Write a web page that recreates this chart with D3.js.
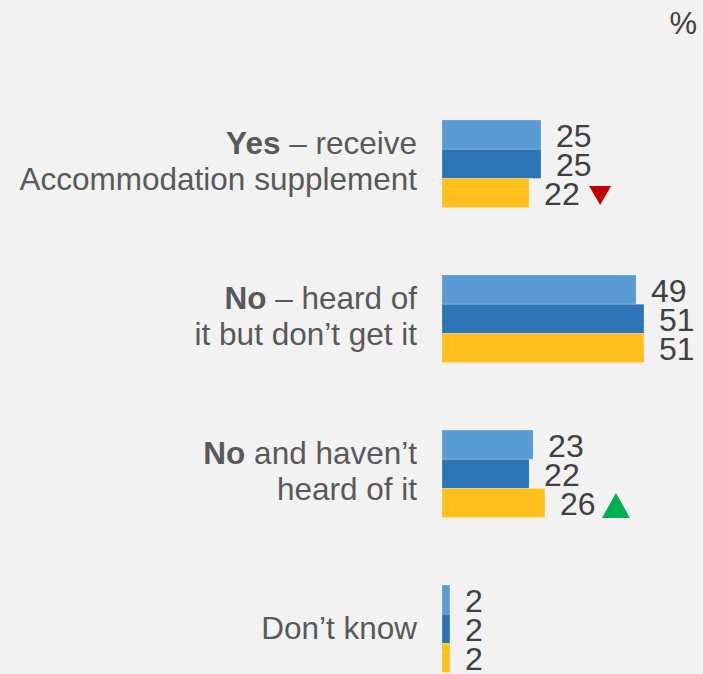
<!DOCTYPE html>
<html>
<head>
<meta charset="utf-8">
<script src="https://cdn.jsdelivr.net/npm/d3@7"></script>
<style>
  html, body { margin: 0; padding: 0; background: #f2f2f2; }
  body { width: 703px; height: 674px; overflow: hidden; }
  svg { display: block; font-family: Arial, "Liberation Sans", sans-serif; }
</style>
</head>
<body>
<div id="root"><svg></svg></div>
<script>
const width = 703, height = 674;

// categories: bold lead word + rest, split into lines
const categories = ['yes', 'noHeard', 'noNotHeard', 'dontKnow'];
const labelLines = [
    [[['Yes', true], [' \u2013 receive', false]], [['Accommodation supplement', false]]],
    [[['No', true], [' \u2013 heard of', false]], [['it but don\u2019t get it', false]]],
    [[['No', true], [' and haven\u2019t', false]], [['heard of it', false]]],
    [[['Don\u2019t know', false]]]
];
const series = ['wave1', 'wave2', 'wave3'];
const seriesColors = ['#5b9bd5', '#2e75b6', '#ffc01e'];
const wave1 = [25, 49, 23, 2];
const wave2 = [25, 51, 22, 2];
const wave3 = [22, 51, 26, 2];
// significance marker on latest wave: -1 down, 1 up, 0 none
const change = [-1, 0, 1, 0];

const values = [wave1, wave2, wave3];

const svg = d3.select('#root').select('svg')
    .attr('width', width)
    .attr('height', height);

const x = d3.scaleLinear().domain([0, 100]).range([442, 838]);
const y = d3.scaleBand().domain(categories).range([120, 672.6]).paddingInner(0.435);
const ySub = d3.scaleBand().domain(series).range([0, y.bandwidth()]);

svg.append('text')
    .attr('x', 697)
    .attr('y', 34)
    .attr('text-anchor', 'end')
    .attr('font-size', '31px')
    .attr('fill', '#404040')
    .text('%');

const groups = svg.selectAll('g.cat')
    .data(categories)
    .enter()
    .append('g')
    .attr('class', 'cat')
    .attr('transform', d => `translate(0,${y(d)})`);

groups.each(function(cat, ci) {
    const g = d3.select(this);
    series.forEach((s, si) => {
        const v = values[si][ci];
        g.append('rect')
            .attr('x', x(0))
            .attr('y', ySub(s))
            .attr('width', x(v) - x(0))
            .attr('height', ySub.bandwidth())
            .attr('fill', seriesColors[si])
            .attr('stroke', '#ffffff')
            .attr('stroke-opacity', 0.25)
            .attr('stroke-width', 0.8);

        g.append('text')
            .attr('x', x(v) + 15)
            .attr('y', ySub(s) + ySub.bandwidth() / 2 + 12)
            .attr('font-size', '32px')
            .attr('fill', '#404040')
            .text(v);
    });

    // change markers on the last series
    const last = series[series.length - 1];
    const cx = x(values[2][ci]) + 71;
    const cy = ySub(last) + ySub.bandwidth() / 2;
    if (change[ci] < 0) {
        g.append('path')
            .attr('d', `M${cx - 11},${cy - 7} L${cx + 11},${cy - 7} L${cx},${cy + 12} Z`)
            .attr('fill', '#c00000');
    } else if (change[ci] > 0) {
        g.append('path')
            .attr('d', `M${cx - 14},${cy + 15} L${cx + 14},${cy + 15} L${cx},${cy - 10} Z`)
            .attr('fill', '#00b050');
    }

    // category label
    const lines = labelLines[ci];
    const mid = y.bandwidth() / 2;
    const lineH = 36.5;
    const first = mid + 10 - (lines.length - 1) * lineH / 2 - (lines.length > 1 ? 2 : 0);
    const t = g.append('text')
        .attr('text-anchor', 'end')
        .attr('font-size', '31.5px')
        .attr('fill', '#595959');
    lines.forEach((parts, li) => {
        parts.forEach((p, pi) => {
            const ts = t.append('tspan')
                .attr('font-weight', p[1] ? 'bold' : 'normal')
                .text(p[0]);
            if (pi === 0) ts.attr('x', 417).attr('y', first + li * lineH);
        });
    });
});
</script>
</body>
</html>
